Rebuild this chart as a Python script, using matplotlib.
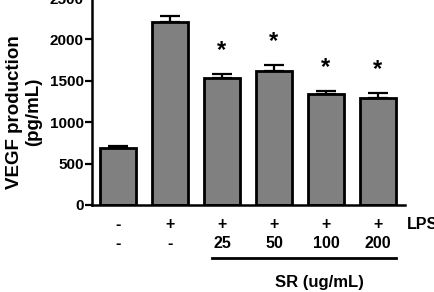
import matplotlib
matplotlib.use('Agg')
import matplotlib.pyplot as plt

# data
lps = ['-', '+', '+', '+', '+', '+']
sr_dose = ['-', '-', '25', '50', '100', '200']
vegf = [684, 2211, 1528, 1616, 1339, 1287]
sem = [28, 73, 52, 76, 36, 64]
significant = [False, False, True, True, True, True]
y_ticks = [0, 500, 1000, 1500, 2000, 2500]

plt.rcParams['font.family'] = ['Liberation Sans', 'DejaVu Sans']
plt.rcParams['font.weight'] = 'bold'

fig = plt.figure(figsize=(4.34, 2.92), dpi=100)
ax = fig.add_axes([92 / 434, 87 / 292, 313 / 434, 207 / 292])

x = list(range(len(vegf)))
ax.bar(x, vegf, width=0.69, color='#808080', edgecolor='black', linewidth=2, zorder=2)
ax.errorbar(x, vegf, yerr=[[0] * len(sem), sem], fmt='none', ecolor='black',
            elinewidth=1.6, capsize=7, capthick=1.6, zorder=1)

# significance stars
for xi, v, e, s in zip(x, vegf, sem, significant):
    if s:
        ax.annotate('*', xy=(xi, v + e), xytext=(0, 8.5), textcoords='offset points',
                    ha='center', va='bottom', fontsize=17, fontweight='bold')

ax.set_xlim(-0.5, 5.52)
ax.set_ylim(0, 2500)
ax.set_yticks(y_ticks)
ax.set_xticks([])
ax.spines['top'].set_visible(False)
ax.spines['right'].set_visible(False)
ax.spines['left'].set_linewidth(1.8)
ax.spines['bottom'].set_linewidth(1.8)
ax.tick_params(axis='y', length=5, width=1.6, labelsize=11, pad=1)
ax.set_ylabel('VEGF production\n(pg/mL)', fontsize=13.5, fontweight='bold')
ax.yaxis.set_label_coords(-0.158, 0.45)

# treatment table under the axis
tr = ax.get_xaxis_transform()
for xi, a, b in zip(x, lps, sr_dose):
    ax.text(xi, -0.092, a, transform=tr, ha='center', va='center', fontsize=11.5, clip_on=False)
    ax.text(xi, -0.188, b, transform=tr, ha='center', va='center', fontsize=11.5, clip_on=False)
ax.text(5.55, -0.092, 'LPS', transform=tr, ha='left', va='center', fontsize=11.5, clip_on=False)
ax.plot([1.8, 5.35], [-0.256, -0.256], transform=tr, color='black', linewidth=2, clip_on=False)
ax.text(3.88, -0.372, 'SR (ug/mL)', transform=tr, ha='center', va='center', fontsize=12, clip_on=False)

plt.savefig('out.png', dpi=100)
